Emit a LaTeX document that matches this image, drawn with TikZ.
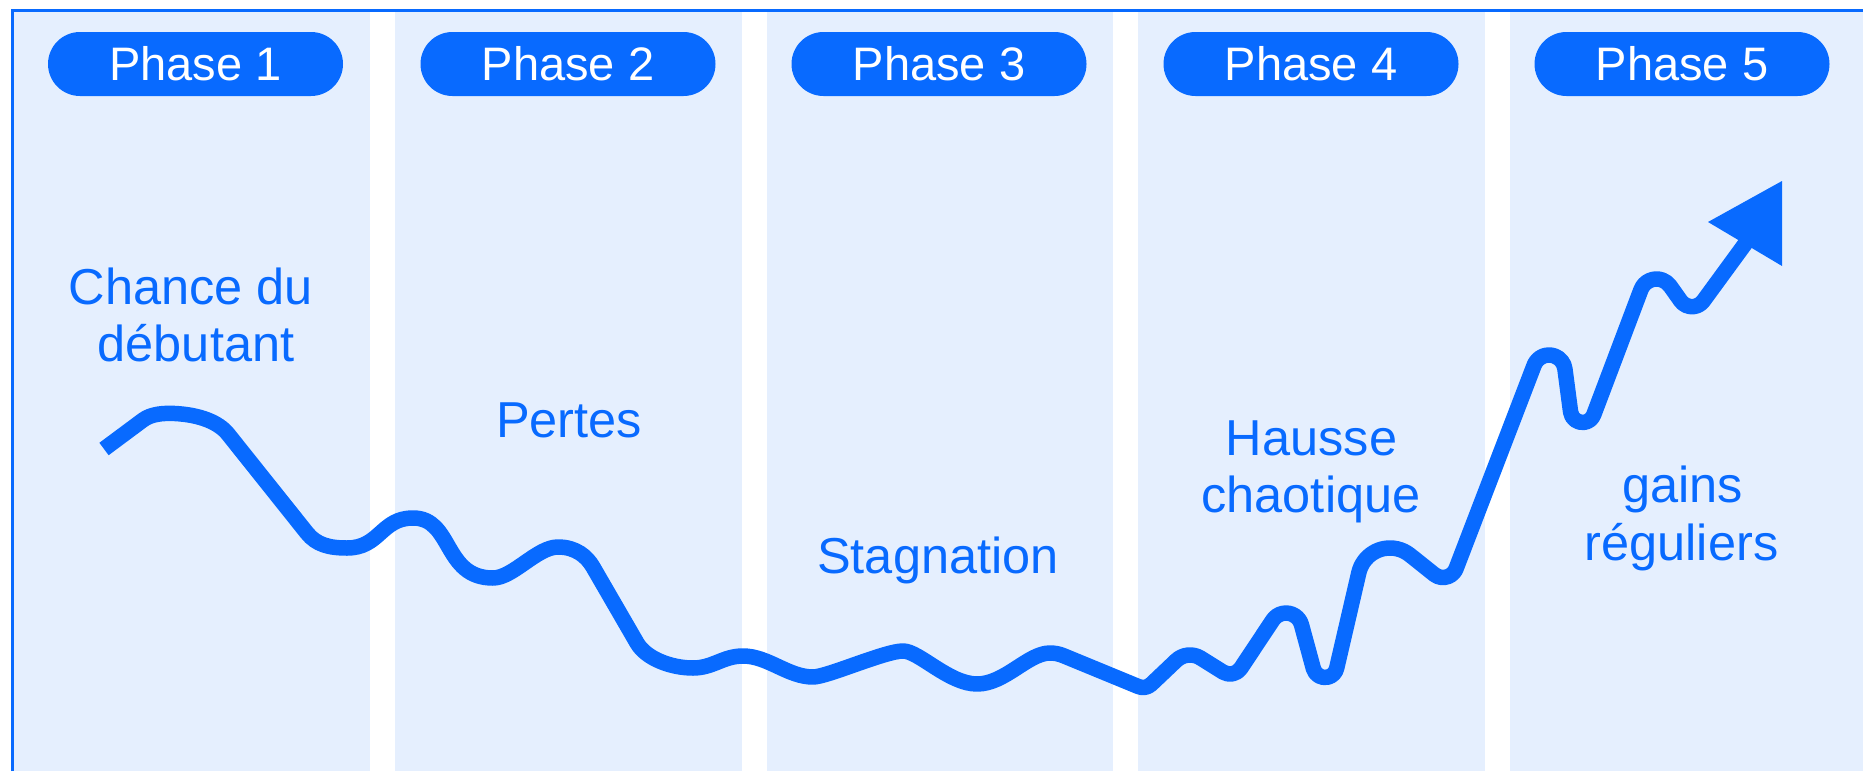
\documentclass[tikz,border=0pt]{standalone}
\usepackage{fontspec}
\setmainfont{Liberation Sans}
\definecolor{bluemain}{RGB}{8,106,255}
\definecolor{bluelight}{RGB}{229,239,254}
\tikzset{
  colfill/.style={fill=bluelight, draw=none},
  pill/.style={fill=bluemain, rounded corners=32pt, minimum width=295pt, minimum height=64pt, inner sep=0pt, text=white, font=\fontsize{47}{57}\selectfont},
  lbl/.style={text=bluemain, inner sep=0pt, anchor=base, font=\fontsize{50.5}{60}\selectfont},
  trendline/.style={draw=bluemain, line join=round, line width=15.5pt},
}
\begin{document}
\begin{tikzpicture}[x=1pt,y=1pt]
\useasboundingbox (0,0) rectangle (1863,-771);
% columns
\fill[colfill] (12,-10) rectangle (370,-771);
\fill[colfill] (395,-10) rectangle (742,-771);
\fill[colfill] (767,-10) rectangle (1113,-771);
\fill[colfill] (1138,-10) rectangle (1485,-771);
\fill[colfill] (1510,-10) rectangle (1863,-771);
% frame
\draw[bluemain, line width=3pt] (12.5,-771) -- (12.5,-10.8) -- (1863,-10.8);
% phase pills
\node[pill] (p1) at (195.5,-64) {Phase 1};
\node[pill] (p2) at (568,-64) {Phase 2};
\node[pill] (p3) at (939,-64) {Phase 3};
\node[pill] (p4) at (1311,-64) {Phase 4};
\node[pill] (p5) at (1682,-64) {Phase 5};
% labels
\node[lbl] (l1a) at (191,-304) {Chance du};
\node[lbl] (l1b) at (196,-361) {débutant};
\node[lbl] (l2) at (569,-437) {Pertes};
\node[lbl] (l3) at (938,-573) {Stagnation};
\node[lbl] (l4a) at (1311.5,-455) {Hausse};
\node[lbl] (l4b) at (1311,-512) {chaotique};
\node[lbl] (l5a) at (1682.5,-502) {gains};
\node[lbl] (l5b) at (1681.5,-560) {réguliers};
% curve
\draw[trendline] (104,-449) -- (143,-420)
 to[out=36.6,in=177,out distance=10pt,in distance=12pt] (175,-413.5)
 to[out=-3,in=128.7,out distance=25pt,in distance=15pt] (228,-434)
 -- (307,-533)
 to[out=-51.3,in=180,out distance=15pt,in distance=18pt] (347,-548)
 to[out=0,in=180,out distance=33pt,in distance=32pt] (413,-518)
 to[out=0,in=180,out distance=40pt,in distance=50pt] (493,-578)
 to[out=0,in=180,out distance=20pt,in distance=21pt] (558,-547)
 to[out=0,in=120.1,out distance=18pt,in distance=12pt] (593,-567)
 -- (637,-643)
 to[out=-59.9,in=180,out distance=18pt,in distance=22pt] (693,-668)
 to[out=0,in=180,out distance=20pt,in distance=20pt] (743,-656)
 to[out=0,in=180,out distance=25pt,in distance=25pt] (813,-677)
 to[out=0,in=180,out distance=14pt,in distance=18pt] (903,-651)
 to[out=0,in=180,out distance=16pt,in distance=28pt] (977,-684)
 to[out=0,in=180,out distance=28pt,in distance=22pt] (1050,-653)
 arc[start angle=90,end angle=68,radius=35]
 -- (1138.5,-686.6) arc[start angle=248,end angle=313.7,radius=12]
 -- (1176.2,-660.5) arc[start angle=133.6,end angle=58.3,radius=20]
 -- (1223.1,-672.1) arc[start angle=238.1,end angle=326.3,radius=13]
 -- (1272.7,-620.2) arc[start angle=146.5,end angle=15.3,radius=16]
 -- (1313.4,-668.7) arc[start angle=195.4,end angle=347,radius=12]
 -- (1358.8,-572.8) arc[start angle=167,end angle=51.3,radius=32]
 -- (1434.25,-574.4) arc[start angle=231.2,end angle=339.1,radius=14]
 -- (1534.1,-365.3) arc[start angle=159.1,end angle=7.5,radius=16]
 -- (1570.6,-412.1) arc[start angle=187.7,end angle=339.4,radius=12]
 -- (1640.9,-289.8) arc[start angle=159.3,end angle=35.2,radius=16.7]
 -- (1680.6,-300.8) arc[start angle=215.4,end angle=323.7,radius=14]
 -- (1749,-238.5);
% arrow head
\fill[bluemain] (1708,-222) -- (1782,-181) -- (1782,-266) -- cycle;
\end{tikzpicture}
\end{document}
